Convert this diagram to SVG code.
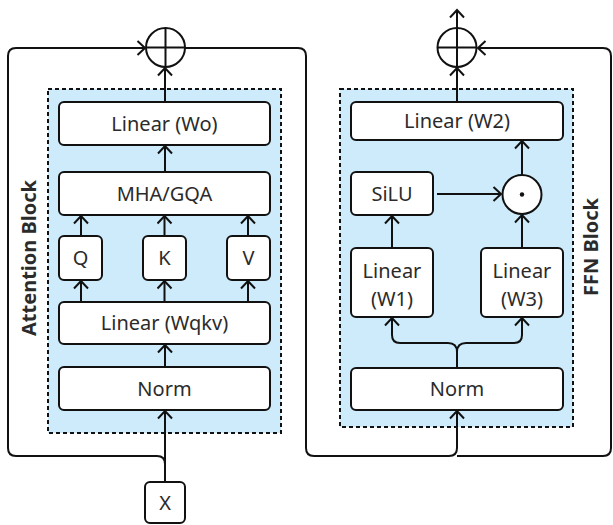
<svg xmlns="http://www.w3.org/2000/svg" width="613" height="525" viewBox="0 0 613 525">
<defs>
<style>
.blk{fill:#cdebfa;stroke:#111;stroke-width:2;stroke-dasharray:4 3}
.box{fill:#fff;stroke:#111;stroke-width:2}
.txt{font-family:"Noto Sans","Open Sans",sans-serif;font-size:20px;fill:#2b2b2b;text-anchor:middle}
.lbl{font-family:"Noto Sans","Open Sans",sans-serif;font-size:20px;font-weight:bold;fill:#2b2b2b;text-anchor:middle}
.ln{fill:none;stroke:#111;stroke-width:2}
.op{fill:#fff;stroke:#111;stroke-width:2}
</style>
<marker id="arr" viewBox="0 0 11 16" refX="9" refY="8" markerWidth="11" markerHeight="16" markerUnits="userSpaceOnUse" orient="auto">
<path d="M1.5,1 L9,8 L1.5,15" fill="none" stroke="#111" stroke-width="2"/>
</marker>
</defs>
<rect width="613" height="525" fill="#fff"/>

<g id="attention-block">
<rect class="blk" x="48" y="89" width="233" height="344"/>
<text class="lbl" transform="translate(36,258) rotate(-90)">Attention Block</text>
</g>
<g id="ffn-block">
<rect class="blk" x="340" y="89" width="233" height="338"/>
<text class="lbl" transform="translate(598,247) rotate(-90)">FFN Block</text>
</g>

<g id="connectors">
<path class="ln" d="M165,470 L165,464 Q165,456 157,456 L16,456 Q8,456 8,448 L8,56 Q8,48 16,48 L145,48" marker-end="url(#arr)"/>
<path class="ln" d="M165,482 L165,411" marker-end="url(#arr)"/>
<path class="ln" d="M165,367 L165,345" marker-end="url(#arr)"/>
<path class="ln" d="M81,302 L81,281" marker-end="url(#arr)"/>
<path class="ln" d="M164.5,302 L164.5,281" marker-end="url(#arr)"/>
<path class="ln" d="M248,302 L248,281" marker-end="url(#arr)"/>
<path class="ln" d="M81,236 L81,216" marker-end="url(#arr)"/>
<path class="ln" d="M164.5,236 L164.5,216" marker-end="url(#arr)"/>
<path class="ln" d="M248,236 L248,216" marker-end="url(#arr)"/>
<path class="ln" d="M165,172 L165,146" marker-end="url(#arr)"/>
<path class="ln" d="M165,102 L165,68" marker-end="url(#arr)"/>
<path class="ln" d="M185,48 L298,48 Q306,48 306,56 L306,448 Q306,456 314,456 L449,456 Q457,456 457,448 L457,411" marker-end="url(#arr)"/>
<path class="ln" d="M457,456 L603,456 Q611,456 611,448 L611,56 Q611,48 603,48 L478,48" marker-end="url(#arr)"/>
<path class="ln" d="M457,367 L457,352 Q457,343 448,343 L400,343 Q392,343 392,335 L392,318" marker-end="url(#arr)"/>
<path class="ln" d="M457,352 Q457,343 466,343 L514,343 Q522,343 522,335 L522,318" marker-end="url(#arr)"/>
<path class="ln" d="M392,248 L392,216" marker-end="url(#arr)"/>
<path class="ln" d="M522,248 L522,215" marker-end="url(#arr)"/>
<path class="ln" d="M437,194 L501,194" marker-end="url(#arr)"/>
<path class="ln" d="M522,174 L522,141" marker-end="url(#arr)"/>
<path class="ln" d="M457,102 L457,68" marker-end="url(#arr)"/>
<path class="ln" d="M457,28 L457,10" marker-end="url(#arr)"/>
</g>

<g id="add-attn">
<circle class="op" cx="165.5" cy="47.5" r="19.5"/>
<path class="ln" d="M146,47.5 H185 M165.5,28 V67"/>
</g>
<g id="add-ffn">
<circle class="op" cx="457" cy="47.5" r="19.5"/>
<path class="ln" d="M437.5,47.5 H476.5 M457,28 V67"/>
</g>

<g id="linear-wo"><rect class="box" x="59" y="102" width="211" height="43" rx="5"/><text class="txt" x="164.5" y="130.5">Linear (Wo)</text></g>
<g id="mha"><rect class="box" x="59" y="172" width="211" height="43" rx="5"/><text class="txt" x="164.5" y="200.5">MHA/GQA</text></g>
<g id="q"><rect class="box" x="59" y="236" width="43" height="44" rx="5"/><text class="txt" x="80.5" y="265">Q</text></g>
<g id="k"><rect class="box" x="143" y="236" width="43" height="44" rx="5"/><text class="txt" x="164.5" y="265">K</text></g>
<g id="v"><rect class="box" x="227" y="236" width="43" height="44" rx="5"/><text class="txt" x="248.5" y="265">V</text></g>
<g id="linear-wqkv"><rect class="box" x="59" y="302" width="211" height="42" rx="5"/><text class="txt" x="164.5" y="330">Linear (Wqkv)</text></g>
<g id="norm-attn"><rect class="box" x="59" y="367" width="211" height="43" rx="5"/><text class="txt" x="164.5" y="395.5">Norm</text></g>
<g id="x"><rect class="box" x="145" y="482" width="40" height="41" rx="5"/><text class="txt" x="165" y="509.5">X</text></g>

<g id="linear-w2"><rect class="box" x="351" y="102" width="212" height="38" rx="5"/><text class="txt" x="457" y="128">Linear (W2)</text></g>
<g id="silu"><rect class="box" x="351" y="172" width="82" height="43" rx="5"/><text class="txt" x="392" y="200.5">SiLU</text></g>
<g id="mul">
<circle class="op" cx="522" cy="194.5" r="19.5"/>
<circle cx="522" cy="194.5" r="2.2" fill="#111"/>
</g>
<g id="linear-w1"><rect class="box" x="351" y="248" width="82" height="69" rx="5"/><text class="txt" x="392" y="278">Linear</text><text class="txt" x="392" y="306">(W1)</text></g>
<g id="linear-w3"><rect class="box" x="481" y="248" width="82" height="69" rx="5"/><text class="txt" x="522" y="278">Linear</text><text class="txt" x="522" y="306">(W3)</text></g>
<g id="norm-ffn"><rect class="box" x="351" y="368" width="212" height="42" rx="5"/><text class="txt" x="457" y="396">Norm</text></g>
</svg>
